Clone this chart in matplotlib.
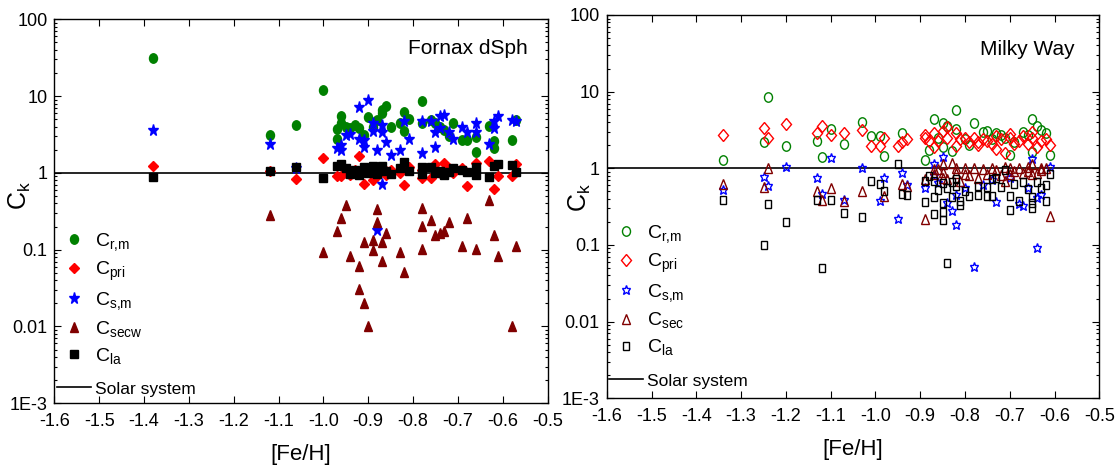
import numpy as np
import matplotlib
matplotlib.use('Agg')
import matplotlib.pyplot as plt
from matplotlib.markers import MarkerStyle
from matplotlib.transforms import Affine2D
from matplotlib import font_manager
from matplotlib.ticker import LogLocator, NullFormatter

# ---------------- data ----------------
xticks = [-1.6, -1.5, -1.4, -1.3, -1.2, -1.1, -1.0, -0.9, -0.8, -0.7, -0.6, -0.5]
xtick_labels = ['-1.6', '-1.5', '-1.4', '-1.3', '-1.2', '-1.1', '-1.0', '-0.9',
                '-0.8', '-0.7', '-0.6', '-0.5']
yticks = [1e-3, 1e-2, 1e-1, 1, 10, 100]
ytick_labels = ['1E-3', '0.01', '0.1', '1', '10', '100']

# Fornax dSph
fx_rm = [-1.38, -1.12, -1.06, -1.00, -0.97, -0.97, -0.96, -0.96, -0.95, -0.94, -0.93, -0.92,
         -0.91, -0.90, -0.89, -0.88, -0.87, -0.87, -0.86, -0.85, -0.83, -0.82, -0.82, -0.81,
         -0.78, -0.78, -0.76, -0.75, -0.74, -0.73, -0.72, -0.71, -0.69, -0.68, -0.66, -0.66,
         -0.63, -0.62, -0.62, -0.58, -0.57]
fy_rm = [31, 3.1, 4.2, 11.9, 3.7, 2.8, 5.5, 4.4, 4.0, 3.8, 4.2, 3.8,
         3.1, 5.4, 3.9, 4.9, 6.6, 6.0, 7.5, 4.0, 4.5, 6.2, 3.5, 5.0,
         8.7, 4.5, 4.9, 4.5, 4.0, 3.6, 3.0, 4.4, 2.7, 2.7, 2.9, 1.85,
         4.1, 2.6, 2.1, 2.7, 4.9]

fx_pri = [-1.38, -1.12, -1.06, -1.00, -0.97, -0.96, -0.95, -0.94, -0.93, -0.92, -0.91, -0.90,
          -0.89, -0.88, -0.87, -0.86, -0.85, -0.83, -0.82, -0.81, -0.78, -0.78, -0.76, -0.75,
          -0.74, -0.73, -0.72, -0.71, -0.69, -0.68, -0.66, -0.63, -0.62, -0.61, -0.58, -0.57]
fy_pri = [1.22, 1.05, 0.82, 1.58, 0.90, 0.92, 1.0, 0.95, 1.1, 1.64, 0.72, 1.05,
          0.81, 0.90, 1.21, 0.95, 1.1, 1.0, 0.70, 1.2, 0.86, 1.1, 0.86, 1.31,
          1.0, 1.35, 1.17, 1.0, 1.17, 0.68, 1.33, 1.41, 0.62, 0.90, 0.90, 1.31]

fx_sm = [-1.38, -1.12, -1.06, -0.97, -0.96, -0.96, -0.95, -0.94, -0.92, -0.92, -0.91, -0.91,
         -0.90, -0.89, -0.89, -0.88, -0.88, -0.87, -0.87, -0.87, -0.86, -0.85, -0.83, -0.82,
         -0.81, -0.78, -0.78, -0.76, -0.75, -0.75, -0.74, -0.74, -0.73, -0.72, -0.71, -0.69,
         -0.68, -0.66, -0.66, -0.63, -0.62, -0.62, -0.61, -0.58, -0.57]
fy_sm = [3.6, 2.4, 1.15, 2.1, 2.0, 2.3, 3.1, 3.2, 7.1, 2.75, 2.7, 2.2,
         8.8, 4.4, 3.5, 2.0, 0.18, 4.2, 3.4, 0.72, 2.5, 1.7, 2.0, 4.8,
         2.75, 4.7, 1.8, 4.7, 3.4, 2.2, 5.5, 3.8, 5.7, 3.4, 2.8, 4.0,
         3.4, 4.4, 3.4, 2.4, 3.8, 4.7, 5.5, 4.9, 4.8]

fx_secw = [-1.12, -1.00, -0.97, -0.96, -0.95, -0.94, -0.92, -0.92, -0.91, -0.91, -0.90, -0.89,
           -0.89, -0.88, -0.88, -0.87, -0.87, -0.86, -0.83, -0.82, -0.78, -0.78, -0.78, -0.76,
           -0.75, -0.74, -0.73, -0.72, -0.69, -0.68, -0.66, -0.63, -0.62, -0.61, -0.58, -0.57]
fy_secw = [0.28, 0.092, 0.176, 0.26, 0.38, 0.082, 0.062, 0.031, 0.124, 0.0205, 0.0102, 0.132,
           0.10, 0.34, 0.226, 0.124, 0.072, 0.164, 0.092, 0.051, 0.35, 0.205, 0.103, 0.245,
           0.156, 0.164, 0.176, 0.226, 0.112, 0.257, 0.103, 0.44, 0.153, 0.082, 0.0102, 0.112]

fx_la = [-1.38, -1.12, -1.06, -1.00, -0.97, -0.96, -0.95, -0.94, -0.93, -0.92, -0.91, -0.90,
         -0.89, -0.88, -0.87, -0.86, -0.85, -0.83, -0.82, -0.81, -0.78, -0.78, -0.76, -0.75,
         -0.74, -0.73, -0.72, -0.71, -0.69, -0.68, -0.66, -0.66, -0.63, -0.62, -0.61, -0.58, -0.57]
fy_la = [0.88, 1.07, 1.18, 0.85, 1.24, 1.3, 1.15, 0.98, 1.1, 0.95, 1.2, 1.0,
         1.24, 0.98, 1.24, 1.05, 0.96, 1.15, 1.4, 1.07, 1.2, 0.98, 1.2, 1.0,
         1.06, 0.95, 1.04, 1.14, 1.1, 1.04, 1.2, 0.95, 0.89, 1.24, 1.3, 1.28, 1.04]

# Milky Way
mx_rm = [-1.34, -1.25, -1.24, -1.20, -1.13, -1.12, -1.10, -1.07, -1.03, -1.01, -0.99, -0.98,
         -0.94, -0.89, -0.88, -0.87, -0.86, -0.85, -0.85, -0.84, -0.83, -0.82, -0.82, -0.80,
         -0.79, -0.78, -0.76, -0.75, -0.74, -0.73, -0.72, -0.71, -0.70, -0.69, -0.67, -0.66,
         -0.65, -0.65, -0.64, -0.63, -0.62, -0.61]
my_rm = [1.28, 2.2, 8.5, 1.95, 2.3, 1.39, 3.3, 2.1, 4.0, 2.6, 2.6, 1.45,
         2.9, 1.28, 1.73, 4.4, 2.5, 3.9, 1.9, 3.6, 1.7, 5.8, 3.3, 2.4,
         2.0, 3.9, 3.0, 3.1, 2.4, 2.9, 2.7, 2.5, 1.5, 2.2, 3.0, 2.7,
         4.4, 1.65, 3.6, 3.2, 2.9, 1.5]

mx_pri = [-1.34, -1.25, -1.24, -1.20, -1.13, -1.12, -1.10, -1.07, -1.03, -1.01, -0.99, -0.98,
          -0.95, -0.94, -0.93, -0.89, -0.89, -0.88, -0.87, -0.87, -0.86, -0.85, -0.84, -0.84,
          -0.82, -0.82, -0.81, -0.80, -0.79, -0.78, -0.77, -0.77, -0.76, -0.75, -0.74, -0.73,
          -0.73, -0.72, -0.71, -0.70, -0.70, -0.69, -0.68, -0.67, -0.66, -0.65, -0.65, -0.64,
          -0.63, -0.62, -0.61]
my_pri = [2.7, 3.4, 2.5, 3.75, 2.9, 3.6, 2.7, 2.85, 3.2, 1.97, 1.97, 2.45,
          1.97, 2.2, 2.4, 2.5, 2.7, 2.3, 2.9, 1.9, 2.3, 3.1, 2.5, 3.5,
          1.95, 2.9, 2.4, 2.5, 2.2, 2.5, 2.2, 2.0, 2.4, 2.3, 2.1, 1.77,
          2.6, 2.4, 1.6, 2.5, 2.8, 2.1, 2.3, 2.6, 2.1, 3.0, 2.5, 1.9,
          2.3, 2.4, 2.0]

mx_sm = [-1.34, -1.25, -1.24, -1.20, -1.13, -1.12, -1.10, -1.07, -1.03, -0.99, -0.98, -0.95,
         -0.94, -0.93, -0.89, -0.87, -0.87, -0.86, -0.85, -0.84, -0.83, -0.82, -0.82, -0.80,
         -0.78, -0.76, -0.74, -0.73, -0.70, -0.68, -0.67, -0.66, -0.65, -0.64, -0.64, -0.63,
         -0.61]
my_sm = [0.52, 0.78, 0.58, 1.03, 0.74, 0.46, 1.35, 0.39, 1.0, 0.37, 0.74, 0.22,
         0.86, 0.6, 0.56, 1.14, 0.8, 0.65, 1.42, 0.35, 0.28, 0.18, 0.45, 0.55,
         0.051, 0.6, 0.7, 0.36, 0.75, 0.34, 0.32, 0.55, 1.31, 0.09, 0.41, 0.45,
         1.05]

mx_sec = [-1.34, -1.25, -1.24, -1.13, -1.12, -1.10, -1.07, -1.03, -0.98, -0.94, -0.93, -0.89,
          -0.89, -0.87, -0.87, -0.86, -0.85, -0.85, -0.85, -0.84, -0.83, -0.82, -0.82, -0.81,
          -0.80, -0.80, -0.79, -0.78, -0.77, -0.76, -0.75, -0.74, -0.73, -0.72, -0.71, -0.71,
          -0.70, -0.70, -0.69, -0.68, -0.67, -0.66, -0.66, -0.65, -0.65, -0.64, -0.63, -0.63,
          -0.62, -0.61]
my_sec = [0.62, 0.565, 1.02, 0.51, 0.39, 0.55, 0.38, 0.5, 0.43, 0.62, 0.58, 0.22,
          0.72, 0.98, 0.85, 0.97, 1.14, 0.89, 0.74, 0.73, 1.17, 1.0, 0.88, 0.69,
          1.02, 0.85, 0.81, 1.0, 0.74, 0.98, 0.85, 1.0, 0.96, 0.81, 1.05, 0.69,
          1.02, 0.85, 0.92, 1.0, 0.88, 1.05, 0.92, 1.14, 0.85, 0.88, 1.02, 0.95,
          1.0, 0.24]

mx_la = [-1.34, -1.25, -1.24, -1.20, -1.13, -1.12, -1.10, -1.07, -1.03, -1.01, -0.99, -0.98,
         -0.95, -0.94, -0.93, -0.89, -0.89, -0.88, -0.87, -0.87, -0.87, -0.86, -0.85, -0.85,
         -0.85, -0.85, -0.84, -0.84, -0.83, -0.83, -0.82, -0.82, -0.81, -0.81, -0.80, -0.79,
         -0.77, -0.77, -0.75, -0.75, -0.74, -0.74, -0.73, -0.72, -0.71, -0.70, -0.70, -0.69,
         -0.68, -0.67, -0.66, -0.65, -0.65, -0.65, -0.64, -0.63, -0.62, -0.62, -0.61]
my_la = [0.39, 0.1, 0.34, 0.2, 0.39, 0.05, 0.39, 0.26, 0.23, 0.69, 0.62, 0.5,
         1.13, 0.46, 0.45, 0.36, 0.69, 0.79, 0.68, 0.42, 0.25, 0.52, 0.35, 0.27,
         0.21, 0.64, 0.55, 0.059, 0.42, 0.66, 0.72, 0.58, 0.38, 0.33, 0.5, 0.44,
         0.58, 0.45, 0.57, 0.44, 0.72, 0.44, 0.75, 0.57, 0.94, 0.44, 0.29, 0.62,
         0.38, 0.67, 0.53, 0.42, 0.35, 0.3, 0.67, 0.55, 0.38, 0.6, 0.84]

# ---------------- style ----------------
names = {f.name for f in font_manager.fontManager.ttflist}
FONT = 'Liberation Sans Narrow' if 'Liberation Sans Narrow' in names else 'Liberation Sans'
plt.rcParams['font.family'] = [FONT, 'DejaVu Sans']
plt.rcParams['mathtext.fontset'] = 'custom'
plt.rcParams['mathtext.rm'] = FONT
plt.rcParams['mathtext.it'] = FONT
plt.rcParams['axes.unicode_minus'] = False

GREEN = '#008000'
RED = '#ff0000'
BLUE = '#0000ff'
MAROON = '#800000'
BLACK = '#000000'


def mk(m):
    return MarkerStyle(m, transform=Affine2D().scale(0.85, 1.0))


fig = plt.figure(figsize=(11.2, 4.7), dpi=100)
axL = fig.add_axes([0.0485, 0.142, 0.4404, 0.817])
axR = fig.add_axes([0.5418, 0.1526, 0.4397, 0.8155])


def setup(ax, ylab_x, ylab_y):
    ax.set_yscale('log')
    ax.set_xlim(-1.6, -0.5)
    ax.set_ylim(1e-3, 100)
    ax.set_xticks(xticks, xtick_labels)
    ax.set_yticks(yticks, ytick_labels)
    ax.yaxis.set_minor_locator(LogLocator(base=10, subs=np.arange(2, 10)))
    ax.yaxis.set_minor_formatter(NullFormatter())
    ax.tick_params(which='both', direction='in', top=True, right=True, width=0.8,
                   labelsize=13)
    ax.tick_params(which='major', length=5)
    ax.tick_params(axis='x', which='major', pad=7)
    ax.tick_params(axis='y', which='major', pad=5)
    ax.tick_params(which='minor', length=2.5)
    for s in ax.spines.values():
        s.set_linewidth(1.0)
    ax.set_xlabel('[Fe/H]', fontsize=16)
    ax.xaxis.set_label_coords(0.5, -0.105)
    ax.set_ylabel(r'C$_{\mathrm{k}}$', fontsize=18)
    ax.yaxis.set_label_coords(ylab_x, ylab_y)


LAB_RM = r'C$_{\mathrm{r{,}m}}$'
LAB_PRI = r'C$_{\mathrm{pri}}$'
LAB_SM = r'C$_{\mathrm{s{,}m}}$'
LAB_LA = r'C$_{\mathrm{la}}$'

# Left panel: filled markers
axL.plot(fx_rm, fy_rm, ls='none', marker=mk('o'), ms=6.8, mfc=GREEN, mec=GREEN, label=LAB_RM)
axL.plot(fx_pri, fy_pri, ls='none', marker=mk('D'), ms=5.4, mfc=RED, mec=RED, label=LAB_PRI)
axL.plot(fx_sm, fy_sm, ls='none', marker=mk('*'), ms=8.5, mfc=BLUE, mec=BLUE, label=LAB_SM)
axL.plot(fx_secw, fy_secw, ls='none', marker=mk('^'), ms=6.8, mfc=MAROON, mec=MAROON,
         label=r'C$_{\mathrm{secw}}$')
axL.plot(fx_la, fy_la, ls='none', marker=mk('s'), ms=6.3, mfc=BLACK, mec=BLACK, label=LAB_LA)
axL.axhline(1, color='black', lw=1.2, label='Solar system', zorder=1)
setup(axL, -0.044, 0.54)
axL.text(0.96, 0.923, 'Fornax dSph', transform=axL.transAxes, ha='right', va='center',
         fontsize=15)

# Right panel: open markers
axR.plot(mx_rm, my_rm, ls='none', marker=mk('o'), ms=6.8, mfc='none', mec=GREEN, mew=1.0,
         label=LAB_RM)
axR.plot(mx_pri, my_pri, ls='none', marker=mk('D'), ms=6.0, mfc='none', mec=RED, mew=1.0,
         label=LAB_PRI)
axR.plot(mx_sm, my_sm, ls='none', marker=mk('*'), ms=7.3, mfc='none', mec=BLUE, mew=1.0,
         label=LAB_SM)
axR.plot(mx_sec, my_sec, ls='none', marker=mk('^'), ms=6.5, mfc='none', mec=MAROON, mew=1.0,
         label=r'C$_{\mathrm{sec}}$')
axR.plot(mx_la, my_la, ls='none', marker=mk('s'), ms=5.6, mfc='none', mec=BLACK, mew=1.0,
         label=LAB_LA)
axR.axhline(1, color='black', lw=1.2, label='Solar system', zorder=1)
setup(axR, -0.028, 0.525)
axR.text(0.949, 0.911, 'Milky Way', transform=axR.transAxes, ha='right', va='center',
         fontsize=15)

# legends: marker entries and the solar-system line as two boxes
for ax, x0, y_mark, y_sun in ((axL, -0.004, 0.0854, 0.004), (axR, -0.005, 0.094, 0.011)):
    h, l = ax.get_legend_handles_labels()
    leg1 = ax.legend(h[:5], l[:5], loc='lower left', bbox_to_anchor=(x0, y_mark),
                     frameon=False, fontsize=14, handlelength=1.75, handletextpad=0.2,
                     labelspacing=0.355, borderpad=0.25, borderaxespad=0.0)
    ax.add_artist(leg1)
    leg2 = ax.legend(h[5:], l[5:], loc='lower left', bbox_to_anchor=(x0, y_sun),
                     frameon=False, fontsize=14, handlelength=1.75, handletextpad=0.2,
                     borderpad=0.25, borderaxespad=0.0)
    leg2.get_texts()[0].set_fontsize(12.5)

fig.savefig('out.png', dpi=100)
